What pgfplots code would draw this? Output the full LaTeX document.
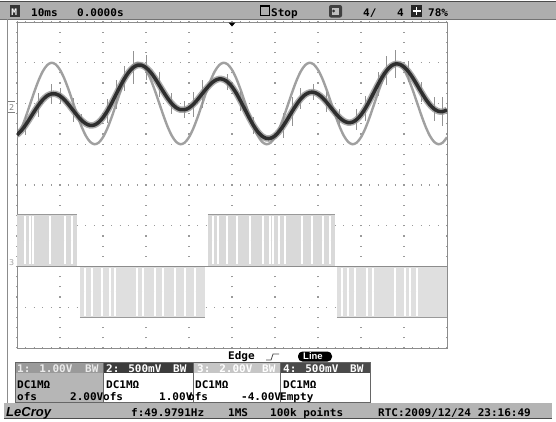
\documentclass[border=0pt]{standalone}
\usepackage{pgfplots}
\pgfplotsset{compat=1.18}
\usepackage{pgfplotstable}
\usepackage{fontspec}
\setmainfont{Liberation Sans}
\newfontfamily\scopefont[FakeStretch=1.05]{DejaVu Sans Mono}
\newfontfamily\logofont{Liberation Sans}
\definecolor{hdr}{HTML}{AEAEAE}
\definecolor{frame}{HTML}{8C8C8C}
\definecolor{gridc}{HTML}{9A9A9A}
\definecolor{chone}{HTML}{A0A0A0}
\definecolor{chtwo}{HTML}{2E2E2E}
\definecolor{chtwohalo}{HTML}{8A8A8A}
\definecolor{chthree}{HTML}{D9D9D9}
\definecolor{boxone}{HTML}{9A9A9A}
\definecolor{boxonebody}{HTML}{B6B6B6}
\definecolor{boxtwo}{HTML}{3C3C3C}
\definecolor{boxthree}{HTML}{C6C6C6}
\definecolor{boxfour}{HTML}{4A4A4A}
\definecolor{statusbg}{HTML}{B4B4B4}

\pgfplotstableread{
t v
0 1.173
1 1.387
2 1.661
3 1.969
4 2.279
5 2.562
6 2.790
7 2.941
8 3.000
9 2.960
10 2.827
11 2.613
12 2.339
13 2.031
14 1.721
15 1.438
16 1.210
17 1.059
18 1.000
19 1.040
20 1.173
21 1.387
22 1.661
23 1.969
24 2.279
25 2.562
26 2.790
27 2.941
28 3.000
29 2.960
30 2.827
31 2.613
32 2.339
33 2.031
34 1.721
35 1.438
36 1.210
37 1.059
38 1.000
39 1.040
40 1.173
41 1.387
42 1.661
43 1.969
44 2.279
45 2.562
46 2.790
47 2.941
48 3.000
49 2.960
50 2.827
51 2.613
52 2.339
53 2.031
54 1.721
55 1.438
56 1.210
57 1.059
58 1.000
59 1.040
60 1.173
61 1.387
62 1.661
63 1.969
64 2.279
65 2.562
66 2.790
67 2.941
68 3.000
69 2.960
70 2.827
71 2.613
72 2.339
73 2.031
74 1.721
75 1.438
76 1.210
77 1.059
78 1.000
79 1.040
80 1.173
81 1.387
82 1.661
83 1.969
84 2.279
85 2.562
86 2.790
87 2.941
88 3.000
89 2.960
90 2.827
91 2.613
92 2.339
93 2.031
94 1.721
95 1.438
96 1.210
97 1.059
98 1.000
99 1.040
100 1.173
}\chonetab

\pgfplotstableread{
t v
0 1.231
1 1.334
2 1.473
3 1.635
4 1.803
5 1.961
6 2.094
7 2.189
8 2.236
9 2.234
10 2.186
11 2.095
12 1.975
13 1.840
14 1.707
15 1.590
16 1.505
17 1.463
18 1.474
19 1.539
20 1.655
21 1.815
22 2.007
23 2.215
24 2.423
25 2.613
26 2.771
27 2.882
28 2.939
29 2.938
30 2.881
31 2.776
32 2.633
33 2.467
34 2.296
35 2.134
36 1.997
37 1.899
38 1.848
39 1.847
40 1.893
41 1.980
42 2.098
43 2.231
44 2.362
45 2.478
46 2.562
47 2.603
48 2.591
49 2.527
50 2.411
51 2.252
52 2.061
53 1.855
54 1.650
55 1.461
56 1.306
57 1.198
58 1.144
59 1.149
60 1.208
61 1.318
62 1.464
63 1.634
64 1.809
65 1.974
66 2.115
67 2.216
68 2.270
69 2.275
70 2.231
71 2.146
72 2.031
73 1.900
74 1.770
75 1.655
76 1.572
77 1.532
78 1.543
79 1.607
80 1.722
81 1.880
82 2.069
83 2.273
84 2.476
85 2.662
86 2.814
87 2.920
88 2.970
89 2.962
90 2.899
91 2.786
92 2.636
93 2.463
94 2.284
95 2.115
96 1.971
97 1.867
98 1.809
99 1.802
100 1.843
}\chtwotab

\begin{document}
\begin{tikzpicture}
\begin{scope}[x=1bp,y=-1bp]
\useasboundingbox (0,0) rectangle (556,421);
\fill[white] (0,0) rectangle (556,421);
% header bar
\fill[hdr] (0,1) rectangle (556,19);
\draw[black!70, line width=0.8bp] (0,1.2)--(556,1.2);
\draw[black!55, line width=0.8bp] (0,19)--(556,19);
% left bezel
\draw[frame, line width=1.4bp] (7.5,19)--(7.5,404);
\end{scope}

\begin{axis}[at={(17bp,-348bp)}, anchor=south west, scale only axis,
  width=430bp, height=326bp,
  xmin=0, xmax=100, ymin=-4, ymax=4,
  xtick={0,10,...,100}, ytick={-4,-3,...,4},
  xticklabels={}, yticklabels={},
  major tick length=0pt,
  grid=major,
  major x grid style={color=gridc, line width=1.2bp, dash pattern=on 1.2bp off 8.99bp, dash phase=0.6bp},
  major y grid style={color=gridc, line width=1.2bp, dash pattern=on 1.2bp off 7.4bp, dash phase=0.6bp},
  axis line style={draw=frame, line width=1bp},
  clip=true,
  spike/.style={only marks, mark=*, mark size=0pt, mark options={draw=none, fill=none},
    error bars/y dir=both, error bars/y explicit, error bars/error mark=none}]
% channel 3 (PWM square wave)
\addplot[fill=chthree, draw=none] coordinates {(0,-1.99) (0,-0.71) (14.0,-0.71) (14.0,-1.99)} -- cycle;
\addplot[fill=chthree!85, draw=none] coordinates {(14.65,-1.99) (14.65,-3.26) (43.7,-3.26) (43.7,-1.99)} -- cycle;
\addplot[fill=chthree, draw=none] coordinates {(44.4,-1.99) (44.4,-0.71) (73.95,-0.71) (73.95,-1.99)} -- cycle;
\addplot[fill=chthree!85, draw=none] coordinates {(74.4,-1.99) (74.4,-3.26) (100,-3.26) (100,-1.99)} -- cycle;
% white PWM gaps
\addplot[spike, error bars/error bar style={white, line width=1.3bp}] coordinates {
 (1.86,-1.35) +- (0,0.6) (3.02,-1.35) +- (0,0.6) (3.72,-1.35) +- (0,0.6) (7.67,-1.35) +- (0,0.6)
 (11.16,-1.35) +- (0,0.6) (12.79,-1.35) +- (0,0.6)
 (15.81,-2.625) +- (0,0.6) (17.44,-2.625) +- (0,0.6) (19.77,-2.625) +- (0,0.6) (21.63,-2.625) +- (0,0.6)
 (22.79,-2.625) +- (0,0.6) (27.91,-2.625) +- (0,0.6) (29.30,-2.625) +- (0,0.6) (32.09,-2.625) +- (0,0.6)
 (33.95,-2.625) +- (0,0.6) (36.74,-2.625) +- (0,0.6) (39.07,-2.625) +- (0,0.6) (41.40,-2.625) +- (0,0.6)
 (45.58,-1.35) +- (0,0.6) (46.74,-1.35) +- (0,0.6) (48.84,-1.35) +- (0,0.6) (51.16,-1.35) +- (0,0.6)
 (54.19,-1.35) +- (0,0.6) (57.21,-1.35) +- (0,0.6) (58.84,-1.35) +- (0,0.6) (59.53,-1.35) +- (0,0.6)
 (60.93,-1.35) +- (0,0.6) (62.33,-1.35) +- (0,0.6) (66.28,-1.35) +- (0,0.6) (68.60,-1.35) +- (0,0.6)
 (71.16,-1.35) +- (0,0.6) (72.79,-1.35) +- (0,0.6)
 (75.58,-2.625) +- (0,0.6) (76.98,-2.625) +- (0,0.6) (78.60,-2.625) +- (0,0.6) (81.40,-2.625) +- (0,0.6)
 (82.79,-2.625) +- (0,0.6) (87.91,-2.625) +- (0,0.6) (90.23,-2.625) +- (0,0.6) (91.40,-2.625) +- (0,0.6)
 (93.02,-2.625) +- (0,0.6)
};
% channel 3 edges
\addplot[color=gray!80, line width=0.8bp] coordinates {(0,-0.71) (14.0,-0.71)};
\addplot[color=gray!80, line width=0.8bp] coordinates {(44.4,-0.71) (73.95,-0.71)};
\addplot[color=gray!80, line width=0.8bp] coordinates {(14.65,-3.26) (43.7,-3.26)};
\addplot[color=gray!80, line width=0.8bp] coordinates {(74.4,-3.26) (100,-3.26)};
\addplot[color=gray!90, line width=0.8bp] coordinates {(0,-1.99) (100,-1.99)};
% channel 1
\addplot[color=chone, line width=2.4bp, smooth] table[x=t, y=v] {\chonetab};
% channel 2 halo and spikes
\addplot[color=chtwohalo, line width=6.5bp, smooth, opacity=0.7] table[x=t, y=v] {\chtwotab};
\addplot[spike, error bars/error bar style={color=gray!85, line width=0.7bp}] coordinates {
 (2,1.47) +- (0,0.25) (5,1.96) +- (0,0.3) (8,2.24) +- (0,0.25) (10,2.19) +- (0,0.2)
 (13,1.84) +- (0,0.3) (15,1.59) +- (0,0.15) (21,1.82) +- (0,0.3) (23,2.22) +- (0,0.35)
 (25,2.61) +- (0,0.3) (27,2.88) +- (0,0.4) (30,2.88) +- (0,0.3) (33,2.47) +- (0,0.3)
 (36,2.00) +- (0,0.25) (39,1.85) +- (0,0.2) (41,1.98) +- (0,0.3) (43,2.23) +- (0,0.35)
 (49,2.53) +- (0,0.2) (52,2.06) +- (0,0.25) (55,1.46) +- (0,0.2) (62,1.46) +- (0,0.3)
 (64,1.81) +- (0,0.35) (66,2.12) +- (0,0.25) (69,2.28) +- (0,0.2) (72,2.03) +- (0,0.25)
 (75,1.66) +- (0,0.2) (79,1.61) +- (0,0.25) (81,1.88) +- (0,0.3) (84,2.48) +- (0,0.3)
 (86,2.81) +- (0,0.35) (88,2.97) +- (0,0.35) (91,2.79) +- (0,0.25) (94,2.28) +- (0,0.25)
 (97,1.87) +- (0,0.3) (99,1.80) +- (0,0.35)
};
% channel 2 core
\addplot[color=chtwo, line width=3.5bp, smooth] table[x=t, y=v] {\chtwotab};
\end{axis}

\begin{scope}[x=1bp,y=-1bp, every node/.style={inner sep=0pt, anchor=base west, font=\scopefont\fontsize{10.5bp}{12bp}\selectfont\bfseries}]
% header contents
\fill[black!80] (10,5) rectangle (20,17);
\node[white, font=\scopefont\fontsize{9bp}{10bp}\selectfont\bfseries] at (11.2,15) {M};
\node at (31,16.5) {10ms};
\node at (77,16.5) {0.0000s};
\draw[black, line width=1.4bp] (260.5,6) rectangle (269.5,15.5);
\node at (271,16.5) {Stop};
\fill[black!75, rounded corners=2bp] (329,5) rectangle (342,17.5);
\fill[white!75!black] (332,8) rectangle (339,14.5);
\fill[black!80] (333.5,11) circle (1.5bp);
\node at (363,16.5) {4/};
\node at (397,16.5) {4};
\fill[black!85] (411,5) rectangle (422,17);
\draw[white, line width=1.3bp] (416.5,7)--(416.5,15) (412.5,11)--(420.5,11);
\node at (428,16.5) {78\%};
% trigger marker
\fill[black] (228.5,22.5)--(235.5,22.5)--(232,26.5)--cycle;
% channel markers
\node[gray, font=\scopefont\fontsize{8bp}{9bp}\selectfont] at (9,110) {2};
\draw[gray, line width=0.5bp] (8,101)--(15,101) (8,112)--(15,112);
\node[gray!70, font=\scopefont\fontsize{8bp}{9bp}\selectfont] at (9,265) {3};
% trigger info
\node at (228,359) {Edge};
\draw[black!70, line width=0.8bp] (266,360)--(271,360)--(273,354)--(279,354);
\fill[black, rounded corners=4.5bp] (298,351.5) rectangle (332,361.5);
\node[white, font=\logofont\fontsize{9.5bp}{10bp}\selectfont\bfseries] at (303,359.5) {Line};
% channel boxes
\fill[boxone] (15,362) rectangle (103,373);
\fill[boxonebody] (15,373) rectangle (103,402);
\fill[boxtwo] (103,362) rectangle (193,373);
\fill[boxthree] (193,362) rectangle (280,373);
\fill[boxfour] (280,362) rectangle (370,373);
\draw[black!60, line width=0.8bp] (15,362) rectangle (370,402);
\draw[black!60, line width=0.7bp] (103,362)--(103,402) (193,362)--(193,402) (280,362)--(280,402);
\node[black!8] at (17,372) {1: 1.00V};
\node[black!8] at (85,372) {BW};
\node[white] at (106,372) {2: 500mV};
\node[white] at (173,372) {BW};
\node[white] at (197,372) {3: 2.00V};
\node[white] at (262,372) {BW};
\node[white] at (283,372) {4: 500mV};
\node[white] at (350,372) {BW};
\node at (17,388) {DC1M\symbol{"03A9}};
\node at (106,388) {DC1M\symbol{"03A9}};
\node at (195,388) {DC1M\symbol{"03A9}};
\node at (283,388) {DC1M\symbol{"03A9}};
\node at (17,400) {ofs};
\node at (70,400) {2.00V};
\node at (103,400) {ofs};
\node at (159,400) {1.00V};
\node at (188,400) {ofs};
\node at (241,400) {-4.00V};
\node at (280,400) {Empty};
% status bar
\fill[statusbg] (4,403) rectangle (552,418);
\draw[black!70, line width=0.8bp] (4,418)--(552,418);
\node[font=\logofont\fontsize{13bp}{13bp}\selectfont\bfseries\itshape] at (6,416.5) {LeCroy};
\node at (131,416) {f:49.9791Hz};
\node at (228,416) {1MS};
\node at (270,416) {100k points};
\node at (378,416) {RTC:2009/12/24 23:16:49};
\end{scope}
\end{tikzpicture}
\end{document}
